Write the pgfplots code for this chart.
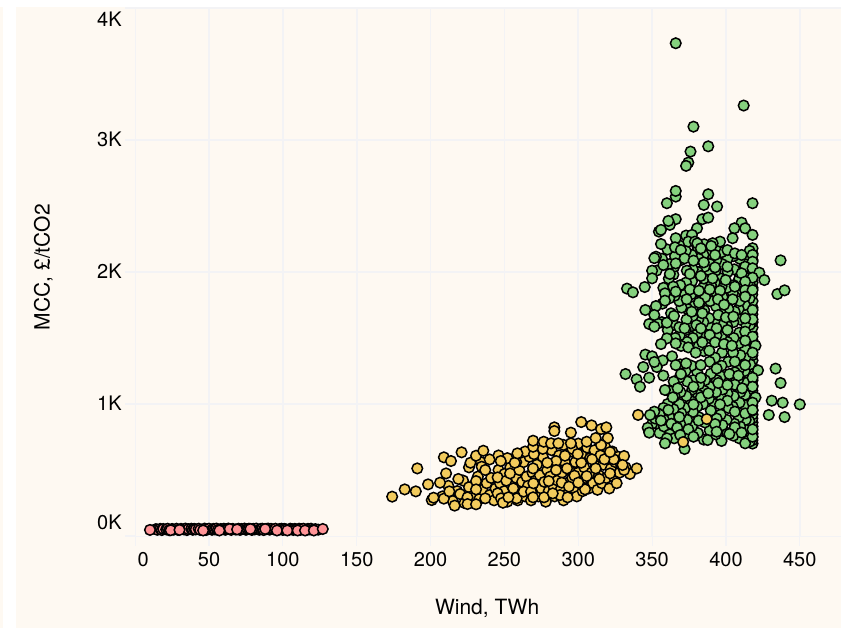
\documentclass[border=0pt]{standalone}
\usepackage{fontspec}
\setmainfont{TeX Gyre Heros}
\usepackage{pgfplots}
\pgfplotsset{compat=1.18}
\definecolor{cream}{HTML}{FEF9F2}
\definecolor{gridc}{HTML}{F3F3F5}
\definecolor{cgreen}{HTML}{85D17E}
\definecolor{cyellow}{HTML}{F2CB5D}
\definecolor{cpink}{HTML}{FF9497}
\pgfplotstableread{
x y
418 700
417.9 725
418 750
418 775
417.8 800
418 830
418 860
417.9 890
418 920
418 950
417.8 985
418 1020
418 1060
417.9 1100
418 1140
418 1180
417.8 1230
418 1280
418 1330
417.9 1370
418 1420
418 1480
417.8 1530
418 1580
418 1620
417.9 1680
418 1730
418 1780
417.8 1830
418 1880
418 1920
417.9 1980
418 2030
418 2090
418 2140
418 2180
416 715
416.3 790
415.8 870
416 960
416.2 1040
415.7 1110
416 1210
416.4 1300
415.9 1400
416 1500
416.2 1600
415.8 1700
416 1800
416.3 1900
416 2000
415.7 2100
416 2160
413 720
412.5 810
413.4 880
412.8 990
413 1070
413.6 1160
412.7 1250
413.2 1350
413 1420
412.6 1520
413.3 1610
413 1690
412.8 1750
413.5 1830
413 1960
412.7 2060
409 740
409.6 830
408.7 900
409.2 1010
409.8 1090
408.5 1190
409.1 1270
409.7 1370
408.8 1460
409 1540
409.5 1640
408.6 1720
409.3 1780
409.8 1870
409 1950
408.7 2000
409.4 2100
405 760
405.7 850
404.6 980
405.3 1060
405 1160
406 1240
404.8 1390
405.2 1500
405 1620
405.9 1700
404.7 1840
405.2 1900
405.6 2020
405 2120
401 780
400.5 880
401.7 970
401 1080
400.3 1180
401.5 1320
400.9 1470
400.8 1590
401.6 1720
400.6 1880
401.2 2000
401 2100
397 720
397.6 840
396.4 920
397.2 1040
397.8 1110
396.6 1210
397 1290
397.4 1390
396.8 1510
397.2 1610
396.5 1690
397.7 1810
397 1890
396.6 1950
397.4 2060
397 2150
393 770
393.7 890
392.5 1000
393.2 1090
393.8 1180
392.6 1350
393.6 1520
392.7 1640
393.3 1740
393.9 1830
392.4 1920
393 2010
393.5 2090
392.8 2180
389 800
389.7 950
388.5 1040
389.2 1130
389.8 1230
388.9 1320
389 1500
389.6 1580
388.7 1650
389.3 1780
389.9 1900
388.4 1990
389 2060
389.5 2140
385 730
385.7 860
384.5 1000
385.2 1100
385.8 1180
385 1400
385.6 1530
384.7 1620
385.3 1710
385.9 1810
384.4 1880
385 1950
385.5 2040
384.8 2130
385.3 2210
381 780
381.7 900
380.5 980
381.2 1070
381.8 1150
380.6 1240
381.6 1440
380.7 1540
381.3 1640
381.9 1750
380.4 1850
381 2000
381.5 2100
380.8 2190
377 830
377.7 940
376.5 1020
377.2 1110
377.8 1180
376.6 1290
377.6 1500
376.7 1590
377.3 1660
377.9 1740
376.4 1830
377 1930
377.5 2020
376.8 2130
377.3 2240
373 770
373.7 880
372.5 970
373.2 1060
373.8 1170
372.6 1250
373.6 1470
372.7 1560
373.3 1640
373.9 1720
372.4 1830
373 1920
373.5 2010
372.8 2160
369 850
369.7 930
368.5 1000
369.2 1090
368.6 1200
369 1300
369.6 1440
368.7 1520
369.9 1730
368.4 1780
369 1900
369.5 2090
368.8 2200
365 800
365.7 880
364.5 960
365.2 1060
364.6 1170
365.6 1500
364.7 1600
365.3 1820
364.4 1980
365 2040
365.5 2120
361 830
361.7 900
360.5 1000
361.2 1100
360.6 1560
361.6 1800
360.7 1860
361.3 1950
361.9 2060
360.4 2170
357 890
357.7 970
357.2 1330
356.6 1620
357 1760
357.6 1880
356.7 2100
353 850
353.7 930
353.2 1280
353.8 1610
353 2010
350 850
352 890
355 780
358 830
362 770
365 740
358 880
363 850
367 820
355 920
347 820
360 740
}\greenfill
\pgfplotstableread{
x y
366 3733
412 3261
378 3101
388 2952
376 2912
374.5 2829
373 2804
366 2571
366 2614
388 2589
360 2521
385 2508
394 2496
418 2521
366 2400
362 2357
361 2387
384 2400
388 2412
380.4 2331
354.6 2306
356 2319
410.6 2374
405.7 2331
413 2331
418 2281
404.5 2256
366 2256
373 2276
377 2281
396 2230
391 2218
374.5 2230
379 2230
356 2212
380.6 2217
390 2197
365.5 2187
369.5 2166
383 2179
401 2166
406 2141
410.6 2129
418 2129
418 2078
352.6 2116
351.5 2105
372 2103
378 2086
385 2073
392.6 2129
366 2065
357.6 2053
392.6 2035
401 2040
350 2010
413 2040
418 2028
362 1985
375.6 1985
383 1970
391 1952
410.6 1990
422.6 1995
418 1957
413 1927
399.8 1939
426 1939
350 1952
437 2088
333 1874
337 1846
345 1886
434.8 1833
439.7 1861
364.3 1889
366 1851
358.7 1838
358.7 1783
375.6 1868
381.7 1858
389 1868
396 1858
406 1889
413 1863
418 1863
373.4 1793
381.7 1768
394.6 1793
404.5 1793
398.7 1752
413 1813
352.6 1742
345.4 1712
351.5 1674
348 1606
351.5 1586
360 1616
362.8 1687
364.8 1667
376.8 1699
384 1687
394.8 1674
400 1656
405 1662
418 1712
418 1641
413 1649
368.4 1581
372 1573
380 1598
383 1573
393.7 1573
401 1560
413 1548
389 1523
418 1510
360 1497
356 1454
366 1459
374.5 1429
384 1467
392.6 1467
398.7 1454
404 1442
420 1442
413 1480
379.5 1389
388.7 1404
345.4 1374
350 1361
351.5 1318
363.5 1361
366 1295
373 1308
383 1295
406 1321
418 1389
413 1295
344 1280
393.7 1268
433.6 1268
421.7 1255
332 1227
339.5 1187
348 1199
341.8 1131
357.6 1215
369.5 1227
383 1199
402.3 1227
408.4 1215
418 1199
437 1159
394.8 1159
406 1146
378 1131
367.3 1119
358.7 1106
418 1131
411 1119
401 1144
364 1050
383 1050
388 1081
420 1050
431 1025
438.4 1010
450 997
401 1025
378 997
418 1010
396 997
351.5 942
368.4 901
348.6 917
356 874
361 955
406 942
413 929
429 917
439.7 901
418 955
348 783
358.7 702
372 659
387.6 727
413 702
374.5 808
378 752
392.6 848
406 823
418 752
418 808
410.6 783
393.7 790
402.3 773
369 765
381.5 874
}\greenread
\pgfplotstableread{
x y
208 300
212 380
215 265
218 340
222 420
223 250
226 370
228 300
232 450
233 280
235 350
238 400
240 310
241 440
243 270
244 360
246 500
247 400
248 300
250 340
250 470
252 260
254 520
255 380
256 310
258 440
259 270
260 500
261 350
262 410
263 560
264 300
265 450
266 380
267 600
268 270
269 480
270 340
271 420
272 540
273 300
274 460
275 360
276 600
277 410
278 260
279 500
280 340
281 450
282 650
283 380
284 300
285 540
286 420
287 610
288 350
289 480
290 270
291 560
292 400
293 320
294 500
295 640
296 440
297 360
298 560
299 300
300 480
300 700
301 400
302 620
303 340
304 520
305 440
306 670
307 360
308 590
309 480
310 400
311 650
312 530
313 350
314 460
315 610
316 400
317 540
318 680
319 440
320 590
321 360
322 510
323 640
324 450
325 560
326 400
327 600
328 480
329 540
332 520
335 470
226 520
234 560
240 580
246 610
252 590
258 560
264 640
270 620
276 660
290 690
296 660
}\yellowfill
\pgfplotstableread{
x y
174 298
182.5 353
190 338
191 512
198.3 391
200.8 272
202 290
206.4 404
209 596
213.8 568
221 634
227 555
230.8 608
235.7 646
210.5 474
209 283
212.7 338
216.3 230
218.8 432
220 318
225 293
225 242
230.8 416
230.8 353
230.8 240
234.6 525
237 500
237 285
245.4 444
245.4 323
247.5 568
247.7 285
249 252
251.3 419
253.8 474
257 555
258.8 626
256 361
258.3 285
252.7 293
263 336
268 336
269.4 293
269.4 512
269.4 676
269.4 722
269.6 399
276.6 714
281.6 702
286.5 702
283.8 823
283.8 795
295 783
295 702
302 863
309 838
315.4 810
319 823
320 742
315.4 689
305.7 714
311.8 742
276.8 293
287.6 310
292.8 293
282.7 323
280 416
288.8 404
293.7 374
304.6 353
314.3 432
321.5 474
331 500
339.6 512
331 606
330 538
324 581
317.7 581
321.5 636
309.3 581
311.8 512
302 555
299.6 621
291 608
285 568
285 500
292.4 512
297.4 457
300 404
279 555
305.7 454
340.5 917
387 886
371 712
}\yellowread
\pgfplotstableread{
x y
14 52
15 47
17 54
18 45
19 53
21 50
22 55
23 44
25 53
26 48
28 55
29 46
31 54
33 50
34 56
35 45
36 52
38 55
39 47
40 54
41 50
43 55
45 48
47 56
48 45
49 52
50 55
52 47
53 54
54 50
55 56
56 46
58 53
60 55
61 47
62 52
63 56
65 46
66 54
68 49
70 55
71 46
72 53
74 56
75 47
76 52
77 55
79 46
80 54
81 50
82 56
84 47
85 53
86 55
87 45
89 53
90 56
91 48
92 54
94 50
95 55
97 47
98 53
99 55
100 46
101 54
102 50
104 47
105 55
106 52
107 46
108 54
109 50
111 55
112 47
113 53
114 55
116 46
117 54
118 50
119 55
120 47
122 52
124 48
10 46
24 44
30 46
44 46
46 42
57 42
64 53
69 50
78 53
88 53
96 42
103 42
110 42
115 42
121 42
127 53
}\pinkdata
\begin{document}
\begin{tikzpicture}[x=1pt,y=1pt]
\useasboundingbox (-135.2,-92) rectangle (705.8,536);
\fill[cream] (-135.2,-92) rectangle (705.8,536);
\fill[white] (-132.2,-92) rectangle (-119.2,536);
\fill[white] (-135.2,529) rectangle (705.8,536);
\begin{axis}[
  at={(0pt,0pt)}, anchor=south west,
  scale only axis, width=705.8pt, height=528pt,
  xmin=0, xmax=477.9, ymin=0, ymax=4000,
  axis line style={draw=none},
  clip=false,
  xtick={50,100,150,200,250,300,350,400,450},
  xticklabels={50,100,150,200,250,300,350,400,450},
  extra x ticks={0},
  extra x tick labels={\hspace*{16pt}0},
  extra x tick style={grid style={gridc,line width=0.6pt}},
  ytick={1000,2000,3000,4000},
  yticklabels={\raisebox{-7pt}{1K},\raisebox{-7pt}{2K},\raisebox{-7pt}{3K},\raisebox{-19pt}{4K}},
  extra y ticks={0},
  extra y tick labels={\raisebox{6pt}{0K}},
  extra y tick style={grid style={gridc,line width=0.6pt}},
  xtick pos=bottom, ytick pos=left,
  tick align=outside, major tick length=10pt,
  tick style={gridc,line width=1.2pt},
  grid=major, grid style={gridc,line width=1.6pt},
  tick label style={font=\fontsize{20}{24}\selectfont},
  xticklabel style={anchor=base,yshift=-21pt},
  yticklabel style={anchor=base east,xshift=0pt},
  xlabel={Wind, TWh},
  ylabel={MCC, £/tCO2},
  every axis x label/.style={at={(rel axis cs:0.4986,-0.138)},anchor=center,font=\fontsize{21}{25}\selectfont},
  every axis y label/.style={at={(rel axis cs:-0.1303,0.509)},anchor=center,rotate=90,font=\fontsize{21}{25}\selectfont},
  every axis plot/.append style={only marks,mark=*,mark size=5.3pt},
]
\addplot[mark options={draw=black,line width=1.5pt,fill=cgreen}] table {\greenfill};
\addplot[mark options={draw=black,line width=1.5pt,fill=cgreen}] table {\greenread};
\addplot[mark options={draw=black,line width=1.5pt,fill=cyellow}] table {\yellowfill};
\addplot[mark options={draw=black,line width=1.5pt,fill=cyellow}] table {\yellowread};
\addplot[mark options={draw=black,line width=1.5pt,fill=cpink}] table {\pinkdata};
\end{axis}
\end{tikzpicture}
\end{document}
